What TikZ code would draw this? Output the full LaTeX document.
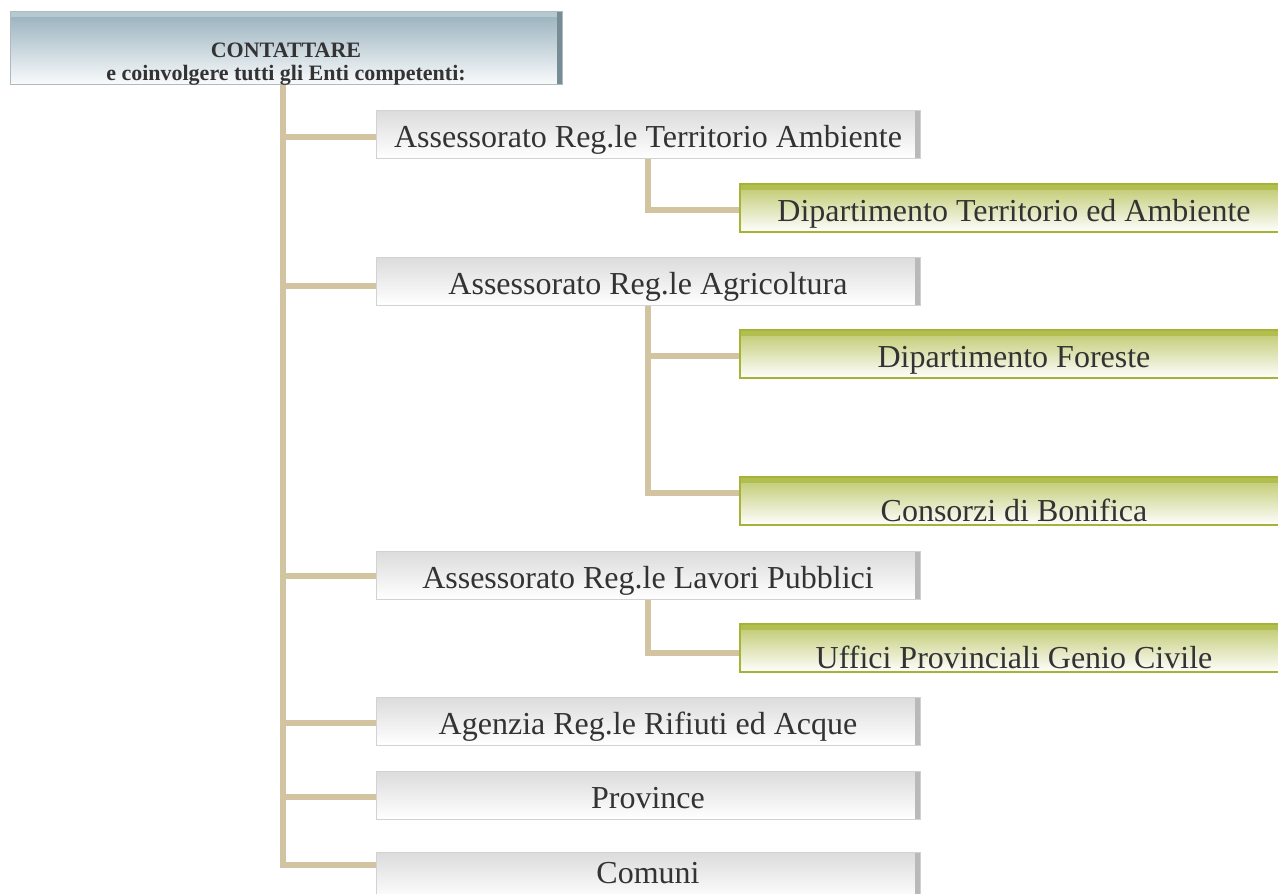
\documentclass[tikz,border=0pt]{standalone}
\usepackage{fontspec}
\setmainfont{Liberation Serif}
\usetikzlibrary{positioning}
\definecolor{linkbrown}{RGB}{210,196,160}
\definecolor{headtop}{RGB}{150,176,188}
\definecolor{headedge}{RGB}{120,140,150}
\definecolor{diptop}{RGB}{178,190,80}
\definecolor{dipedge}{RGB}{165,180,55}
\begin{document}
\begin{tikzpicture}[x=1pt, y=-1pt,
    every box/.style={rectangle, draw=gray!35, line width=1pt, minimum height=48pt,
      inner sep=0pt, text=black!80, font=\fontsize{32}{34}\selectfont,
      text height=28pt, text depth=2pt},
    ente/.style={every box, minimum width=544pt, top color=gray!28, bottom color=white,
      path picture={\fill[gray!55] ([xshift=-5pt]path picture bounding box.north east)
        rectangle (path picture bounding box.south east);}},
    dip/.style={every box, draw=dipedge, line width=1.5pt, minimum width=548pt,
      top color=diptop!85, middle color=white!90!diptop, bottom color=white,
      path picture={\fill[diptop] (path picture bounding box.north west)
        rectangle ([yshift=-6pt]path picture bounding box.north east);}},
    low/.style={text height=42pt},
    high/.style={text height=16pt},
    link/.style={draw=linkbrown, line width=6.5pt}]

    \useasboundingbox (0,0) rectangle (1278,894);

    % head
    \node [every box, draw=headedge!60, minimum width=552pt, minimum height=72pt,
      top color=headtop, bottom color=white!95!headtop, align=center,
      text height=, text depth=,
      font=\bfseries\fontsize{22}{23}\selectfont,
      path picture={\fill[headtop!70] (path picture bounding box.north west)
        rectangle ([yshift=-6pt]path picture bounding box.north east);
        \fill[headedge] ([xshift=-5pt]path picture bounding box.north east)
        rectangle (path picture bounding box.south east);}]
      (head) at (286,48) {\rule{0pt}{46pt}CONTATTARE\\ e coinvolgere tutti gli Enti competenti:};
    \coordinate (trunk) at ([xshift=-3pt]head.south);

    % enti
    \foreach \n/\y/\s/\l in {a1/134/{}/Assessorato Reg.le Territorio Ambiente,
                             a2/281/{}/Assessorato Reg.le Agricoltura,
                             a3/575/{}/Assessorato Reg.le Lavori Pubblici,
                             a4/721/{}/Agenzia Reg.le Rifiuti ed Acque,
                             a5/795/{}/Province,
                             a6/876/high/Comuni}
    \node [ente, \s] (\n) at (648,\y) {\l};

    % dipartimenti
    \foreach \n/\y/\s/\l in {d1/208/{}/Dipartimento Territorio ed Ambiente,
                             d2/354/{}/Dipartimento Foreste,
                             d3/501/low/Consorzi di Bonifica,
                             d4/648/low/Uffici Provinciali Genio Civile}
    \node [dip, \s] (\n) at (1014,\y) {\l};

    % links
    \foreach \n/\o in {a1/-3, a2/-5, a3/-1, a4/-2, a5/-2, a6/11}
    \draw [link] (trunk) |- ([yshift=\o pt]\n.west);

    \foreach \a/\d/\o in {a1/d1/-2, a2/d2/-2, a2/d3/8, a3/d4/-5}
    \draw [link] (\a.south) |- ([yshift=\o pt]\d.west);
\end{tikzpicture}
\end{document}
